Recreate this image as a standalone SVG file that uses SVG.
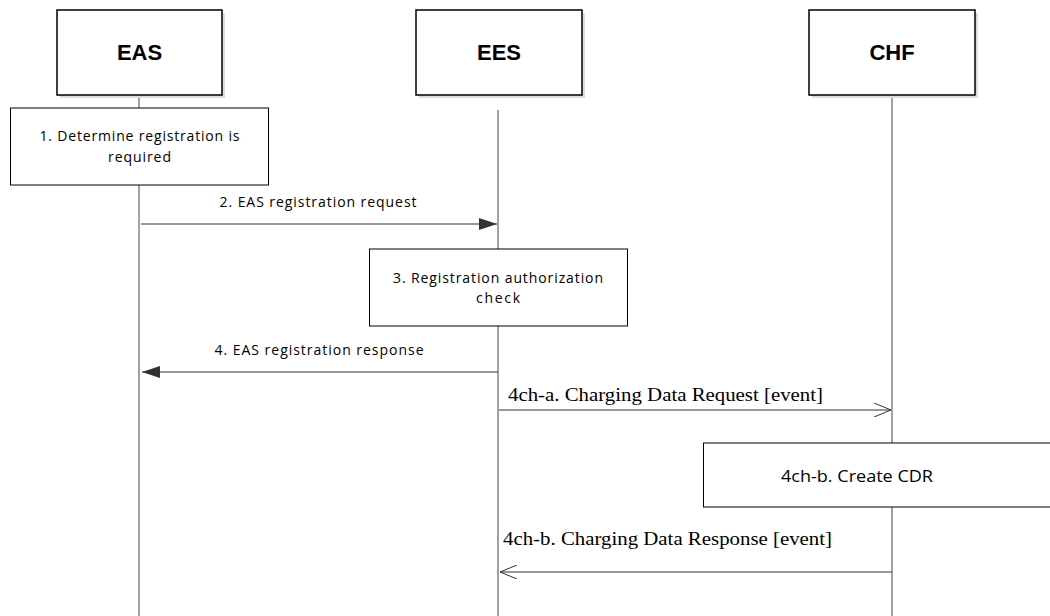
<svg xmlns="http://www.w3.org/2000/svg" width="1050" height="616" viewBox="0 0 1050 616">
<style>
.hdr{fill:#fff;stroke:#000;stroke-width:1.5}
.shd{fill:#dcdcdc;stroke:none}
.hdrt{font-family:"Liberation Sans",Arial,sans-serif;font-weight:bold;font-size:22px;text-anchor:middle;fill:#000}
.step{fill:#fff;stroke:#000;stroke-width:1}
.st{font-family:"Open Sans","Liberation Sans",sans-serif;font-size:14px;text-anchor:middle;fill:#000}
.serif{font-family:"Liberation Serif","Times New Roman",serif;font-size:19px;fill:#000}
.life{stroke:#444;stroke-width:1;fill:none}
.msg{stroke:#333;stroke-width:1;fill:none}
</style>
<defs>
<marker id="filled" viewBox="0 0 18 12" refX="18" refY="6" markerWidth="18" markerHeight="12" markerUnits="userSpaceOnUse" orient="auto">
<path d="M0,0 L18,6 L0,12 Z" fill="#333"/>
</marker>
<marker id="open" viewBox="0 0 18 14" refX="17" refY="7" markerWidth="18" markerHeight="14" markerUnits="userSpaceOnUse" orient="auto">
<path d="M0,0 L17,7 L0,14" fill="none" stroke="#333" stroke-width="1"/>
</marker>
</defs>

<g id="lifelines">
<line class="life" x1="139" y1="95" x2="139" y2="616"/>
<line class="life" x1="498" y1="110" x2="498" y2="616"/>
<line class="life" x1="892" y1="95" x2="892" y2="616"/>
</g>

<g id="EAS">
<rect class="shd" x="60" y="13" width="165" height="85"/>
<rect class="hdr" x="57" y="10" width="165" height="85"/>
<text class="hdrt" x="139.5" y="60">EAS</text>
</g>
<g id="EES">
<rect class="shd" x="419" y="13" width="166" height="85"/>
<rect class="hdr" x="416" y="10" width="166" height="85"/>
<text class="hdrt" x="499" y="60">EES</text>
</g>
<g id="CHF">
<rect class="shd" x="812" y="13" width="166" height="85"/>
<rect class="hdr" x="809" y="10" width="166" height="85"/>
<text class="hdrt" x="892" y="60">CHF</text>
</g>

<g id="step1">
<rect class="step" x="10.5" y="108" width="258" height="77"/>
<text class="st" x="139.5" y="141" textLength="200" lengthAdjust="spacing">1. Determine registration is</text>
<text class="st" x="139.5" y="162" textLength="63" lengthAdjust="spacing">required</text>
</g>

<g id="step3">
<rect class="step" x="369.5" y="249" width="258" height="77"/>
<text class="st" x="498" y="283" textLength="210" lengthAdjust="spacing">3. Registration authorization</text>
<text class="st" x="498" y="303" textLength="44" lengthAdjust="spacing">check</text>
</g>

<g id="step4chb">
<rect class="step" x="703.5" y="443" width="350" height="64"/>
<text x="857" y="482" font-family="'Open Sans','Liberation Sans',sans-serif" font-size="17" text-anchor="middle" textLength="152" lengthAdjust="spacingAndGlyphs">4ch-b. Create CDR</text>
</g>

<g id="connectors">
<line class="msg" x1="141" y1="224" x2="497" y2="224" marker-end="url(#filled)"/>
<text class="st" x="318" y="207" textLength="197" lengthAdjust="spacing">2. EAS registration request</text>
<line class="msg" x1="498" y1="372" x2="142" y2="372" marker-end="url(#filled)"/>
<text class="st" x="319" y="355" textLength="209" lengthAdjust="spacing">4. EAS registration response</text>
<line class="msg" x1="499" y1="410" x2="891" y2="410" marker-end="url(#open)"/>
<text class="serif" x="508" y="401" textLength="315" lengthAdjust="spacingAndGlyphs">4ch-a. Charging Data Request [event]</text>
<line class="msg" x1="892" y1="572" x2="500" y2="572" marker-end="url(#open)"/>
<text class="serif" x="503" y="545" textLength="329" lengthAdjust="spacingAndGlyphs">4ch-b. Charging Data Response [event]</text>
</g>
</svg>
